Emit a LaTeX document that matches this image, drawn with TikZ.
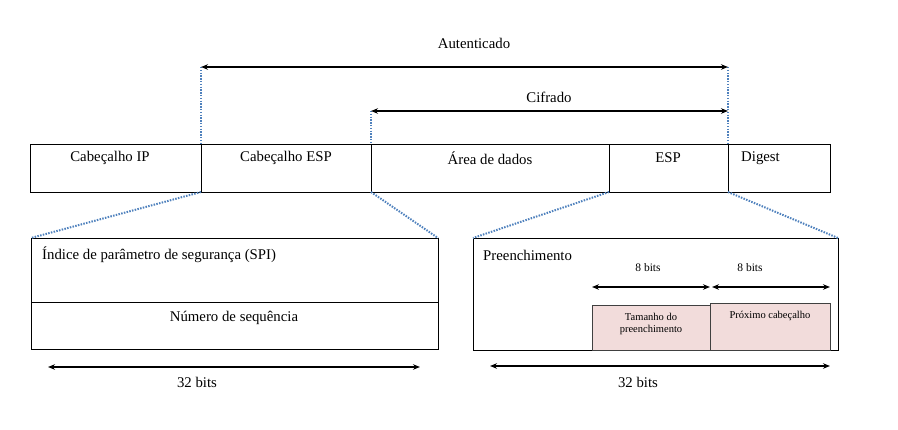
\documentclass[tikz,border=0pt]{standalone}
\usepackage{fontspec}
\setmainfont{Liberation Serif}
\usetikzlibrary{arrows.meta}
\definecolor{dotblue}{HTML}{4F81BD}
\definecolor{pinkfill}{HTML}{F2DCDB}
\tikzset{
  cell/.style={draw=black, line width=0.8pt, inner sep=0pt, outer sep=0pt, anchor=north west},
  pinkcell/.style={draw=black!75, line width=0.8pt, fill=pinkfill, inner sep=0pt, outer sep=0pt, anchor=north west},
  lbl/.style={font=\fontsize{14.8}{17}\selectfont, inner sep=0pt},
  small/.style={font=\fontsize{10.5}{12.5}\selectfont, inner sep=0pt, align=center},
  bitlbl/.style={font=\fontsize{11.5}{13}\selectfont, inner sep=0pt},
  dimarrow/.style={line width=1.1pt, {Stealth[length=7pt,width=5.5pt]}-{Stealth[length=7pt,width=5.5pt]}},
  dotline/.style={draw=dotblue, line width=2pt, dash pattern=on 1.5pt off 1.3pt}
}
\begin{document}
\begin{tikzpicture}[x=1pt,y=-1pt]
\useasboundingbox (0,0) rectangle (898,430);
% main row
\node[cell, minimum width=171pt, minimum height=48pt] (ip) at (30,144) {};
\node[cell, minimum width=170pt, minimum height=48pt] (esph) at (201,144) {};
\node[cell, minimum width=238pt, minimum height=48pt] (data) at (371,144) {};
\node[cell, minimum width=119pt, minimum height=48pt] (esp) at (609,144) {};
\node[cell, minimum width=102pt, minimum height=48pt] (dig) at (728,144) {};
\node[lbl] at (110,158) {Cabeçalho IP};
\node[lbl] at (286,158) {Cabeçalho ESP};
\node[lbl] at (490,158) {Área de dados};
\node[lbl] at (668,158) {ESP};
\node[lbl, anchor=west] at (741,158) {Digest};
% top arrows
\coordinate (a1) at (201,67);
\coordinate (a2) at (728,67);
\coordinate (c1) at (371,111);
\coordinate (c2) at (728,111);
\draw[dotline] (a1) -- (esph.north west);
\draw[dotline] (c1) -- (data.north west);
\draw[dotline] (a2) -- (dig.north west);
\draw[dimarrow] (a1) -- (a2);
\draw[dimarrow] (c1) -- (c2);
\node[lbl] at (474,43) {Autenticado};
\node[lbl] at (549,97) {Cifrado};
% lower-left box
\node[cell, minimum width=407pt, minimum height=64pt] (spi) at (31,238) {};
\node[cell, minimum width=407pt, minimum height=47pt] (seq) at (31,302) {};
\node[lbl, anchor=west] at (42,255) {Índice de parâmetro de segurança (SPI)};
\node[lbl] at (234,318) {Número de sequência};
\draw[dotline] (ip.south east) -- (spi.north west);
\draw[dotline] (esph.south east) -- (spi.north east);
\coordinate (l1) at (48,367);
\coordinate (l2) at (420,367);
\draw[dimarrow] (l1) -- (l2);
\node[lbl] at (197,382) {32 bits};
% lower-right box
\node[cell, minimum width=365pt, minimum height=112pt] (pad) at (473,238) {};
\node[lbl, anchor=west] at (483,255) {Preenchimento};
\draw[dotline] (data.south east) -- (pad.north west);
\draw[dotline] (esp.south east) -- (pad.north east);
\node[pinkcell, minimum width=118pt, minimum height=45pt] (tam) at (592,305) {};
\node[pinkcell, minimum width=120pt, minimum height=47pt] (prox) at (710,303) {};
\node[small] at (651,324) {Tamanho do\\preenchimento};
\node[small] at (770,316) {Próximo cabeçalho};
\coordinate (b1) at (592,287);
\coordinate (b2) at (710,287);
\coordinate (b3) at (712,287);
\coordinate (b4) at (830,287);
\draw[dimarrow] (b1) -- (b2);
\draw[dimarrow] (b3) -- (b4);
\node[bitlbl] at (648,268) {8 bits};
\node[bitlbl] at (750,268) {8 bits};
\coordinate (r1) at (490,366);
\coordinate (r2) at (830,366);
\draw[dimarrow] (r1) -- (r2);
\node[lbl] at (638,382) {32 bits};
\end{tikzpicture}
\end{document}
